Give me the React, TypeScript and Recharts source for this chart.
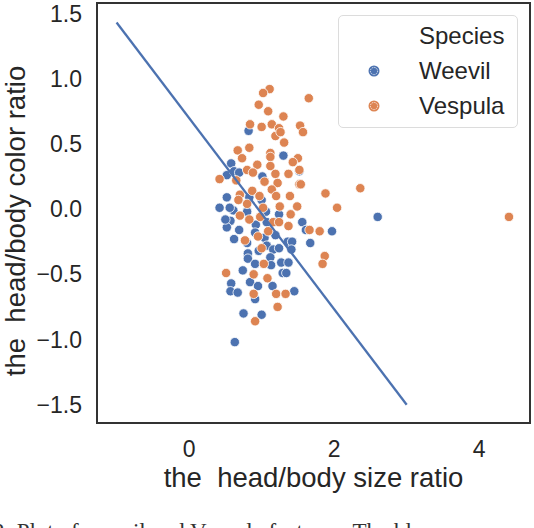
import React from 'react';
import { ScatterChart, Scatter, XAxis, YAxis, ReferenceArea, Legend, Label } from 'recharts';

const BLUE = '#4C72B0';
const ORANGE = '#DD8452';
const INK = '#262626';
const FONT = '"Liberation Sans", Arial, sans-serif';

// Weevil points
const weevilX = [
  0.82, 1.30, 0.58, 0.52, 0.62, 1.01, 0.42, 0.52, 0.83, 1.00, 0.61, 0.80, 1.06, 1.24, 0.57,
  0.52, 0.69, 0.92, 1.07, 1.56, 1.61, 1.97, 2.60, 0.62, 0.80, 0.91, 1.04, 1.19, 1.36, 1.42,
  1.67, 1.41, 1.07, 1.16, 0.81, 0.96, 0.81, 0.91, 1.12, 1.13, 1.27, 1.37, 0.74, 1.29, 1.34,
  0.58, 0.84, 0.95, 1.15, 0.57, 0.67, 0.91, 1.45, 0.75, 1.00, 0.63, 0.69, 0.50, 0.56, 1.24,
  1.52,
];
const weevilY = [
  0.60, 0.41, 0.35, 0.26, 0.29, 0.25, 0.01, 0.09, 0.09, 0.07, -0.01, -0.02, -0.02, -0.04, -0.09,
  -0.14, -0.16, -0.12, -0.10, -0.10, -0.16, -0.17, -0.06, -0.23, -0.26, -0.18, -0.22, -0.20, -0.25, -0.25,
  -0.26, -0.31, -0.28, -0.31, -0.34, -0.32, -0.38, -0.42, -0.37, -0.43, -0.41, -0.41, -0.47, -0.49, -0.49,
  -0.57, -0.56, -0.59, -0.59, -0.63, -0.64, -0.69, -0.63, -0.80, -0.81, -1.02, 0.28, -0.08, 0.01, -0.30,
  0.29,
];

// Vespula points
const vespulaX = [
  1.11, 1.02, 1.65, 0.96, 1.09, 1.30, 0.84, 1.00, 1.14, 1.24, 1.53, 1.57, 1.19, 1.26, 1.31,
  0.67, 0.83, 1.12, 0.73, 1.12, 1.50, 1.43, 0.94, 1.12, 0.80, 1.52, 1.19, 1.37, 0.88, 0.42,
  0.65, 1.04, 1.22, 1.52, 1.54, 1.14, 0.87, 0.70, 0.97, 1.20, 1.39, 1.88, 2.36, 0.68, 0.80,
  1.02, 1.25, 1.49, 2.04, 4.41, 0.70, 0.83, 0.98, 1.16, 1.24, 1.40, 1.37, 1.66, 1.80, 0.77,
  0.95, 1.09, 1.00, 1.87, 1.84, 1.03, 0.51, 0.89, 1.08, 0.89, 1.20, 1.33, 1.22, 0.91,
];
const vespulaY = [
  0.92, 0.89, 0.85, 0.80, 0.75, 0.71, 0.65, 0.63, 0.65, 0.62, 0.64, 0.59, 0.56, 0.59, 0.51,
  0.45, 0.47, 0.43, 0.39, 0.40, 0.39, 0.36, 0.34, 0.33, 0.30, 0.30, 0.27, 0.27, 0.28, 0.23,
  0.22, 0.21, 0.20, 0.19, 0.19, 0.15, 0.14, 0.11, 0.10, 0.10, 0.10, 0.12, 0.16, 0.07, 0.04,
  0.01, 0.02, 0.02, 0.01, -0.06, -0.05, -0.08, -0.06, -0.10, -0.10, -0.04, -0.13, -0.16, -0.17, -0.24,
  -0.21, -0.17, -0.30, -0.36, -0.42, -0.42, -0.49, -0.50, -0.53, -0.65, -0.65, -0.65, -0.75, -0.86,
];

// fitted decision line
const fitX = [-1, 3];
const fitY = [1.43, -1.5];

const xTicks = [0, 2, 4];
const yTicks = [-1.5, -1, -0.5, 0, 0.5, 1, 1.5];
const xDomain = [-1.27, 4.7];
const yDomain = [-1.64, 1.58];

const caption = '2: Plot of weevil and Vespula features. The bl';

const zip = (xs: number[], ys: number[]) => xs.map((x, i) => ({ x, y: ys[i] }));

const weevil = zip(weevilX, weevilY);
const vespula = zip(vespulaX, vespulaY);
const fitLine = zip(fitX, fitY);

const fmtY = (v: number) => (v < 0 ? '\u2212' + Math.abs(v).toFixed(1) : v.toFixed(1));

const dot = (color: string) => (p: any) =>
  <circle cx={p.cx} cy={p.cy} r={4.7} fill={color} stroke="#fff" strokeWidth={0.8} />;

function LegendMarker({ color }: { color: string }) {
  return (
    <svg width={14} height={14} style={{ position: 'absolute', left: 28, top: -7 }}>
      <circle cx={7} cy={7} r={5.5} fill={color} />
      <circle cx={7} cy={7} r={3.6} fill="none" stroke="#fff" strokeWidth={0.8} strokeDasharray="1.4 1" />
    </svg>
  );
}

function SpeciesLegend() {
  const rows = [
    { label: 'Species', color: null as string | null, top: 20 },
    { label: 'Weevil', color: BLUE, top: 55 },
    { label: 'Vespula', color: ORANGE, top: 90 },
  ];
  return (
    <div
      style={{
        position: 'relative',
        width: 180,
        height: 113,
        boxSizing: 'border-box',
        border: '1px solid #dcdcdc',
        borderRadius: 5,
        background: 'rgba(255,255,255,0.8)',
        fontFamily: FONT,
        fontSize: 24,
        color: INK,
      }}
    >
      {rows.map((r) => (
        <div key={r.label} style={{ position: 'absolute', left: 0, top: r.top, width: '100%' }}>
          {r.color && <LegendMarker color={r.color} />}
          <span style={{ position: 'absolute', left: 80, top: 0, transform: 'translateY(-50%)', lineHeight: 1 }}>
            {r.label}
          </span>
        </div>
      ))}
    </div>
  );
}

const XTitle = (props: any) => {
  const vb = props.viewBox;
  return (
    <text x={vb.x + vb.width / 2} y={487} textAnchor="middle" fontSize={27.5} fill={INK} fontFamily={FONT}
      style={{ whiteSpace: 'pre' }}>
      {'the  head/body size ratio'}
    </text>
  );
};

const YTitle = (props: any) => {
  const vb = props.viewBox;
  const cx = 25;
  const cy = vb.y + vb.height / 2 + 8;
  return (
    <text x={cx} y={cy} textAnchor="middle" fontSize={27.5} fill={INK} fontFamily={FONT}
      transform={`rotate(-90, ${cx}, ${cy})`} style={{ whiteSpace: 'pre' }}>
      {'the  head/body color ratio'}
    </text>
  );
};

export default function App() {
  const tick = { fontSize: 23, fill: INK, fontFamily: FONT };
  return (
    <div style={{ position: 'absolute', left: 0, top: 0, width: 534, height: 528, background: '#fff', overflow: 'hidden' }}>
      <ScatterChart width={534} height={528} margin={{ top: 3, right: 4, bottom: 0, left: 0 }}>
        <XAxis
          type="number"
          dataKey="x"
          domain={xDomain}
          ticks={xTicks}
          allowDataOverflow
          height={105}
          axisLine={false}
          tickLine={false}
          tickSize={0}
          tickMargin={18}
          tick={tick}
        >
          <Label content={XTitle} />
        </XAxis>
        <YAxis
          type="number"
          dataKey="y"
          domain={yDomain}
          ticks={yTicks}
          allowDataOverflow
          width={97}
          axisLine={false}
          tickLine={false}
          tickSize={0}
          tickMargin={15}
          tickFormatter={fmtY}
          tick={tick}
        >
          <Label content={YTitle} />
        </YAxis>
        <ReferenceArea
          x1={xDomain[0]}
          x2={xDomain[1]}
          y1={yDomain[0]}
          y2={yDomain[1]}
          fill="none"
          stroke="#333"
          strokeWidth={2}
          ifOverflow="visible"
        />
        <Scatter name="Weevil" data={weevil} fill={BLUE} shape={dot(BLUE)} isAnimationActive={false} />
        <Scatter name="Vespula" data={vespula} fill={ORANGE} shape={dot(ORANGE)} isAnimationActive={false} />
        <Scatter
          name="fit"
          data={fitLine}
          line={{ stroke: BLUE, strokeWidth: 2.3 }}
          shape={() => <g />}
          legendType="none"
          isAnimationActive={false}
        />
        <Legend
          layout="horizontal"
          verticalAlign="middle"
          align="center"
          content={() => <SpeciesLegend />}
          wrapperStyle={{ position: 'absolute', left: 338, top: 15, width: 180, height: 113, margin: 0 }}
        />
      </ScatterChart>
      <div
        style={{
          position: 'absolute',
          left: -7,
          top: 519,
          whiteSpace: 'nowrap',
          fontFamily: '"Liberation Serif", "Times New Roman", serif',
          fontSize: 23,
          lineHeight: '26px',
          color: '#333',
        }}
      >
        {caption}
      </div>
    </div>
  );
}
